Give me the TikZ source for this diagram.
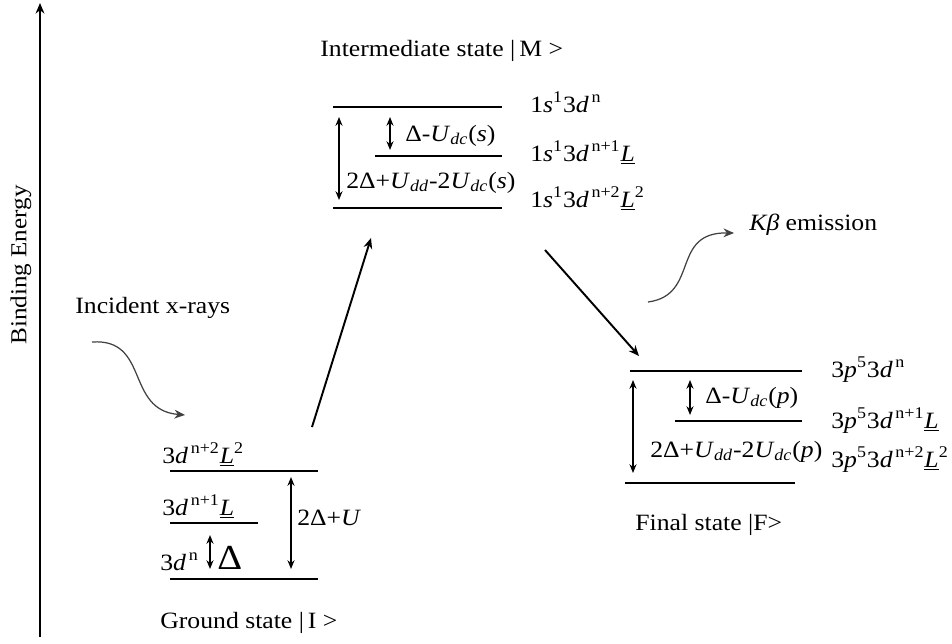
\documentclass[tikz,border=0pt]{standalone}
\usepackage{fontspec}
\setmainfont{Liberation Serif}[FakeStretch=1.1]
\usetikzlibrary{arrows.meta}
\newcommand\Lu{\underline{\textit{L}}}
\newcommand\myd{\textit{d}}
\newcommand\mysp[1]{\textsuperscript{#1}}
\newcommand\mysb[1]{\textsubscript{\textit{#1}}}
\tikzset{
  lvl/.style={line width=1.4pt},
  gap/.style={line width=0.7pt,{Stealth[length=5pt,width=4pt]}-{Stealth[length=5pt,width=4pt]}},
  trans/.style={line width=1.1pt,-{Stealth[length=6pt,width=5pt]}},
  wavy/.style={line width=0.7pt,draw=black!75,-{Stealth[length=6pt,width=5pt]}},
  lab/.style={anchor=base west,inner sep=0pt,font=\fontsize{13.3}{15}\selectfont},
}
\begin{document}
\begin{tikzpicture}[x=0.02cm,y=-0.02cm]
\useasboundingbox (0,0) rectangle (952,643);
% axis
\coordinate (ax0) at (40,637);
\coordinate (ax1) at (40,3);
\draw[line width=1pt,-{Stealth[length=6pt,width=5pt]}] (ax0) -- (ax1);
\node[font=\fontsize{13}{15}\selectfont,rotate=90,inner sep=0pt] (be) at (21,265) {Binding Energy};

% incident x-rays
\node[lab] (inc) at (75,313) {Incident x-rays};
\coordinate (i0) at (92,342);
\coordinate (i1) at (185,415);
\draw[wavy] (i0) .. controls (150,338) and (125,410) .. (i1);

% ground state
\coordinate (g1a) at (170,471); \coordinate (g1b) at (318,471);
\coordinate (g2a) at (170,523); \coordinate (g2b) at (258,523);
\coordinate (g3a) at (170,579); \coordinate (g3b) at (318,579);
\draw[lvl] (g1a) -- (g1b);
\draw[lvl] (g2a) -- (g2b);
\draw[lvl] (g3a) -- (g3b);
\node[lab] (gl1) at (162,463) {3\myd\mysp{\,n+2}\Lu\mysp{2}};
\node[lab] (gl2) at (162,515) {3\myd\mysp{\,n+1}\Lu};
\node[lab] (gl3) at (160,570) {3\myd\mysp{\,n}};
\coordinate (ga0) at (210,535); \coordinate (ga1) at (210,569);
\draw[gap,line width=1pt] (ga0) -- (ga1);
\node[anchor=base west,inner sep=0pt,font=\fontsize{20}{22}\selectfont] (gD) at (217,569) {Δ};
\coordinate (gb0) at (291,477); \coordinate (gb1) at (291,569);
\draw[gap] (gb0) -- (gb1);
\node[lab] (gU) at (297,525) {2Δ+\textit{U}};
\node[lab] (gs) at (160,628) {Ground state |\,I >};

% transition to intermediate
\coordinate (t1a) at (312,427); \coordinate (t1b) at (371,238);
\draw[trans] (t1a) -- (t1b);

% intermediate state
\node[lab] (ms) at (320,56) {Intermediate state |\,M >};
\coordinate (m1a) at (333,107); \coordinate (m1b) at (502,107);
\coordinate (m2a) at (375,156); \coordinate (m2b) at (502,156);
\coordinate (m3a) at (333,208); \coordinate (m3b) at (502,208);
\draw[lvl] (m1a) -- (m1b);
\draw[lvl] (m2a) -- (m2b);
\draw[lvl] (m3a) -- (m3b);
\coordinate (ma0) at (390,117); \coordinate (ma1) at (390,150);
\draw[gap] (ma0) -- (ma1);
\node[lab] (mD) at (405,141) {Δ-\textit{U}\mysb{dc}(\textit{s})};
\coordinate (mb0) at (339,117); \coordinate (mb1) at (339,200);
\draw[gap] (mb0) -- (mb1);
\node[lab] (mU) at (346,188) {2Δ+\textit{U}\mysb{dd}-2\textit{U}\mysb{dc}(\textit{s})};
\node[lab] (ml1) at (530,112) {1\textit{s}\mysp{1}3\myd\mysp{\,n}};
\node[lab] (ml2) at (530,161) {1\textit{s}\mysp{1}3\myd\mysp{\,n+1}\Lu};
\node[lab] (ml3) at (530,207) {1\textit{s}\mysp{1}3\myd\mysp{\,n+2}\Lu\mysp{2}};

% transition to final
\coordinate (t2a) at (545,250); \coordinate (t2b) at (639,356);
\draw[trans] (t2a) -- (t2b);

% K beta emission
\coordinate (k0) at (648,302);
\coordinate (k1) at (734,233);
\draw[wavy] (k0) .. controls (700,295) and (670,232) .. (k1);
\node[lab] (kb) at (749,230) {\textit{Kβ} emission};

% final state
\coordinate (f1a) at (630,371); \coordinate (f1b) at (802,371);
\coordinate (f2a) at (675,421); \coordinate (f2b) at (802,421);
\coordinate (f3a) at (625,483); \coordinate (f3b) at (795,483);
\draw[lvl] (f1a) -- (f1b);
\draw[lvl] (f2a) -- (f2b);
\draw[lvl] (f3a) -- (f3b);
\coordinate (fa0) at (690,380); \coordinate (fa1) at (690,415);
\draw[gap] (fa0) -- (fa1);
\node[lab] (fD) at (705,403) {Δ-\textit{U}\mysb{dc}(\textit{p})};
\coordinate (fb0) at (633,380); \coordinate (fb1) at (633,473);
\draw[gap] (fb0) -- (fb1);
\node[lab] (fU) at (650,457) {2Δ+\textit{U}\mysb{dd}-2\textit{U}\mysb{dc}(\textit{p})};
\node[lab] (fl1) at (831,377) {3\textit{p}\mysp{5}3\myd\mysp{\,n}};
\node[lab] (fl2) at (831,428) {3\textit{p}\mysp{5}3\myd\mysp{\,n+1}\Lu};
\node[lab] (fl3) at (831,467) {3\textit{p}\mysp{5}3\myd\mysp{\,n+2}\Lu\mysp{2}};
\node[lab] (fs) at (635,530) {Final state |F>};
\end{tikzpicture}
\end{document}
